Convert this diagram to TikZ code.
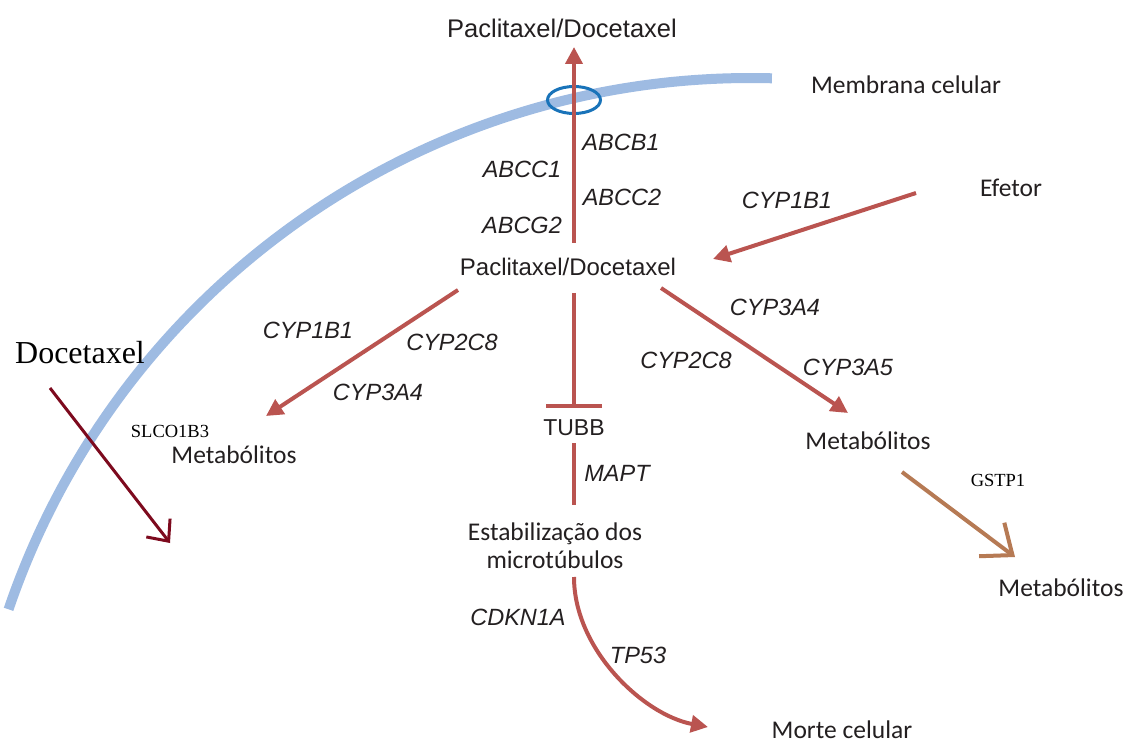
\documentclass[tikz,border=0pt]{standalone}
\usepackage{fontspec}
\setmainfont{Carlito}
\newfontfamily\arialf{Liberation Sans}
\newfontfamily\timesf{Liberation Serif}
\usetikzlibrary{arrows.meta,shapes.geometric}
\definecolor{memb}{RGB}{158,187,226}
\definecolor{transp}{RGB}{25,115,185}
\definecolor{pathred}{RGB}{186,84,80}
\definecolor{darkred}{RGB}{125,10,30}
\definecolor{brownarr}{RGB}{182,122,84}
\definecolor{txt}{RGB}{35,31,32}
\begin{document}
\begin{tikzpicture}[x=1pt,y=-1pt,
  lbl/.style={font=\fontsize{25.5}{28}\selectfont, text=txt, inner sep=0pt, align=center},
  gene/.style={font=\arialf\itshape\fontsize{23.5}{26}\selectfont, text=txt, inner sep=0pt},
  drug/.style={font=\arialf\fontsize{24}{28}\selectfont, text=txt, inner sep=0pt},
  small/.style={font=\timesf\fontsize{18.5}{22}\selectfont, text=black, inner sep=0pt},
  redarrow/.style={draw=pathred, line width=4pt, -{Triangle[length=17pt,width=17pt]}},
  redline/.style={draw=pathred, line width=4pt},
  barbarrow/.style={line width=3pt, -{Straight Barb[length=17pt,width=30pt]}}
]
\useasboundingbox (0,0) rectangle (1128,746);
% membrane (arc of a circle centred at (750.7,862), radius 784)
\coordinate (membEnd) at (771.9,78.3);
\draw[memb, line width=10pt] (membEnd) arc[start angle=88.45, end angle=161.2, radius=784pt];
\node[draw=transp, line width=3pt, ellipse, minimum width=53pt, minimum height=27pt, inner sep=0pt] (pore) at (574,100) {};

% text nodes
\node[drug, font=\arialf\fontsize{25.5}{30}\selectfont] (top) at (562,28) {Paclitaxel/Docetaxel};
\node[drug] (mid) at (568,267) {Paclitaxel/Docetaxel};
\node[lbl] (membrana) at (906,85) {Membrana celular};
\node[lbl] (efetor) at (1011,188) {Efetor};
\node[font=\timesf\fontsize{32}{36}\selectfont, text=black, inner sep=0pt] (doce) at (80,353) {Docetaxel};
\node[small] (slco) at (170,431) {SLCO1B3};
\node[lbl] (metL) at (234,455) {Metabólitos};
\node[lbl] (metR) at (868,441) {Metabólitos};
\node[lbl] (metB) at (1061,588) {Metabólitos};
\node[small] (gstp) at (998,480) {GSTP1};
\node[drug, font=\arialf\fontsize{23}{27}\selectfont] (tubb) at (574,428) {TUBB};
\node[lbl] (estab) at (555,546) {Estabilização dos\\microtúbulos};
\node[lbl, anchor=base] (morte) at (842,738) {Morte celular};

% gene labels
\node[gene] (abcb1) at (621,142) {ABCB1};
\node[gene] (abcc1) at (522,169) {ABCC1};
\node[gene] (abcc2) at (622,197) {ABCC2};
\node[gene] (abcg2) at (522,225) {ABCG2};
\node[gene] (cyp1b1r) at (787,200) {CYP1B1};
\node[gene] (cyp1b1l) at (308,330) {CYP1B1};
\node[gene] (cyp2c8l) at (452,342) {CYP2C8};
\node[gene] (cyp3a4l) at (378,392) {CYP3A4};
\node[gene] (cyp3a4r) at (775,307) {CYP3A4};
\node[gene] (cyp2c8r) at (686,360) {CYP2C8};
\node[gene] (cyp3a5) at (848,367) {CYP3A5};
\node[gene] (mapt) at (617,473) {MAPT};
\node[gene] (cdkn) at (518,617) {CDKN1A};
\node[gene] (tp53) at (638,655) {TP53};

% connector end points
\coordinate (effS) at (916,193);
\coordinate (effT) at (713,259);
\coordinate (upS) at (574,243);
\coordinate (upT) at (574,47);
\coordinate (lS) at (458,290);
\coordinate (lT) at (266,416);
\coordinate (rS) at (661,288);
\coordinate (rT) at (848,413);
\coordinate (tS) at (574,293);
\coordinate (tT) at (574,408);
\coordinate (mS) at (574,443);
\coordinate (mT) at (574,505);
\coordinate (cS) at (574,577);
\coordinate (cT) at (708,727);
\coordinate (dS) at (50,388);
\coordinate (dT) at (170,543);
\coordinate (gS) at (902,472);
\coordinate (gT) at (1015,557);

% connectors
\draw[redarrow] (upS) -- (upT);
\draw[redarrow] (effS) -- (effT);
\draw[redarrow] (lS) -- (lT);
\draw[redarrow] (rS) -- (rT);
\draw[redline, -{Bar[width=56pt]}] (tS) -- (tT);
\draw[redline] (mS) -- (mT);
\draw[redarrow] (cS) .. controls (574,650) and (644,715) .. (cT);
\draw[barbarrow, darkred] (dS) -- (dT);
\draw[barbarrow, brownarr, line width=4pt, -{Straight Barb[length=26pt,width=42pt]}] (gS) -- (gT);
\end{tikzpicture}
\end{document}
